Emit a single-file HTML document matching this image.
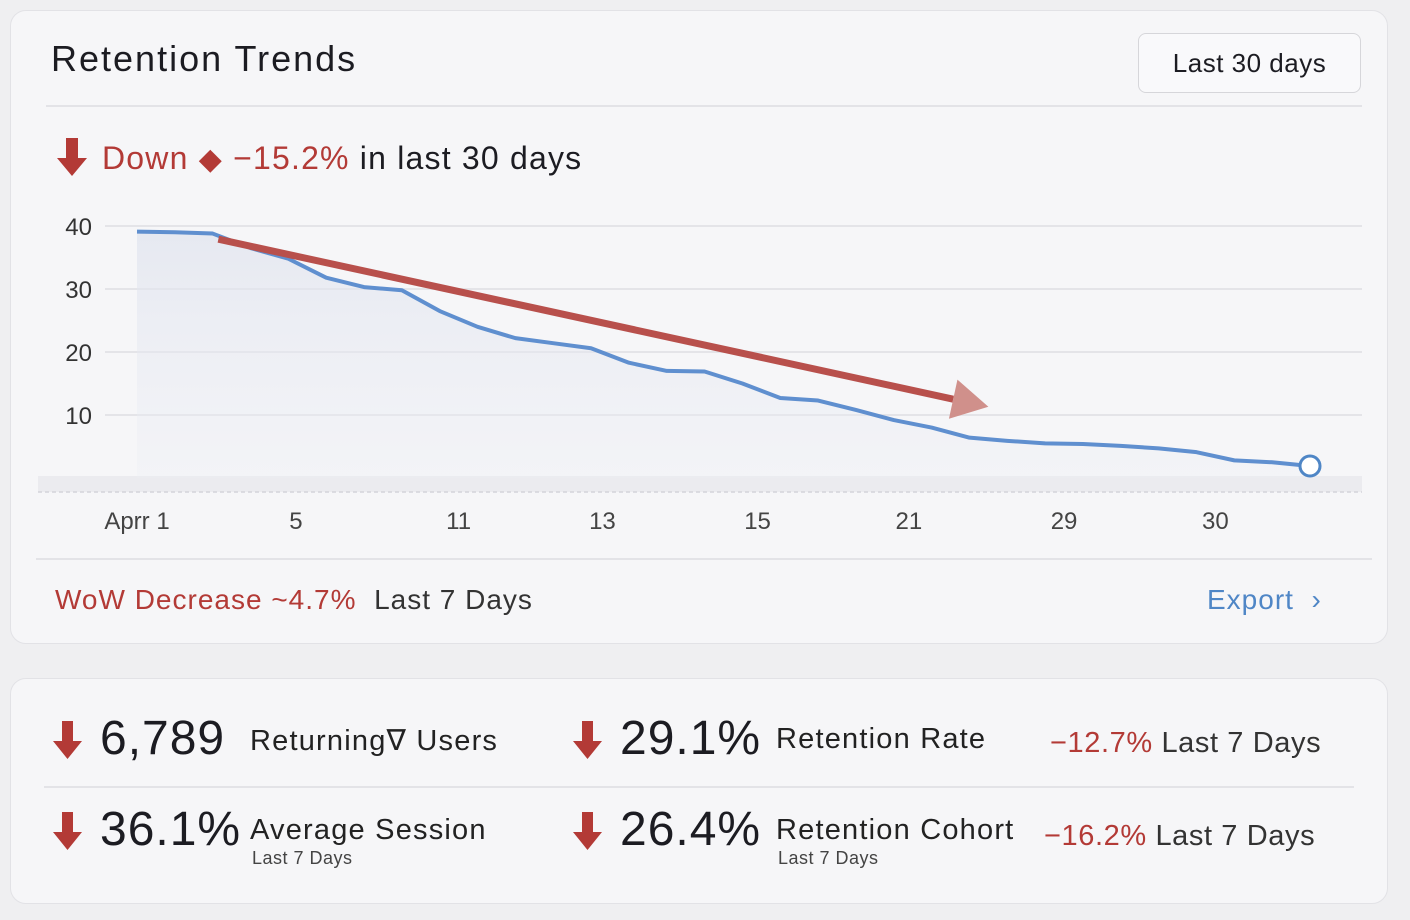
<!DOCTYPE html>
<html><head><meta charset="utf-8"><style>
*{margin:0;padding:0;box-sizing:border-box}
body{width:1410px;height:920px;background:#efeff1;font-family:"Liberation Sans",sans-serif;position:relative;overflow:hidden;color:#1c1c22}
.card{position:absolute;background:#f6f6f8;border:1.5px solid #e2e2e6;border-radius:16px}
.abs{position:absolute;white-space:nowrap}
.red{color:#b33a36}
</style></head><body>
<div class="card" style="left:10px;top:10px;width:1378px;height:634px"></div>
<div class="abs" style="left:51px;top:38px;font-size:36px;letter-spacing:2px;color:#1c1c22">Retention Trends</div>
<div class="abs" style="left:1138px;top:33px;width:223px;height:60px;border:1.5px solid #d6d6da;border-radius:8px;background:#f9f9fb;font-size:26px;letter-spacing:0.5px;line-height:58px;text-align:center">Last 30 days</div>
<div class="abs" style="left:46px;top:105px;width:1316px;height:2px;background:#e3e3e7"></div>
<svg class="abs" style="left:56px;top:138px" width="32" height="40"><path d="M10 0h12v20h9L16 38 1 20h9z" fill="#b33a36"/></svg>
<div class="abs" style="left:102px;top:140px;font-size:32px;letter-spacing:1.2px"><span class="red">Down</span> <span class="red" style="font-size:30px">◆</span> <span class="red">−15.2%</span> in last 30 days</div>
<svg class="abs" style="left:0;top:0" width="1410" height="560">
<defs><linearGradient id="g" x1="0" y1="0" x2="0" y2="1"><stop offset="0" stop-color="#dfe3ee" stop-opacity=".7"/><stop offset="1" stop-color="#eceef4" stop-opacity=".3"/></linearGradient></defs>
<g id="grid"></g><g id="area"></g><g id="lines"></g><g id="labels"></g>
</svg>
<div class="abs" style="left:36px;top:558px;width:1336px;height:2px;background:#e3e3e7"></div>
<div class="abs" style="left:55px;top:584px;font-size:28px;letter-spacing:1px"><span class="red">WoW Decrease ~4.7%</span>&nbsp;&nbsp;<span style="color:#333">Last 7 Days</span></div>
<div class="abs" style="left:1207px;top:584px;font-size:28px;letter-spacing:1px;color:#4f86c6">Export &nbsp;›</div>

<div class="card" style="left:10px;top:678px;width:1378px;height:226px"></div>
<div class="abs" style="left:44px;top:786px;width:1310px;height:2px;background:#e3e3e7"></div>
<div id="metrics"></div>
<script>
const yTicks=[10,20,30,40];
const xLabels=["Aprr 1","5","11","13","15","21","29","30"];
const xLabelIdx=[0,4.2,8.5,12.3,16.4,20.4,24.5,28.5];
const values=[39.1,39.0,38.8,36.5,34.8,31.8,30.3,29.8,26.5,24.0,22.2,21.4,20.6,18.3,17.0,16.9,15.0,12.7,12.3,10.8,9.2,8.0,6.4,5.9,5.5,5.4,5.1,4.7,4.1,2.8,2.5,1.9];
const trendStart=[2.15,37.9];
const trendEnd=[22.5,11.3];
const NS="http://www.w3.org/2000/svg";
const x0=137,x1=1310;
const xs=i=>x0+i*(x1-x0)/(values.length-1);
const ys=v=>478-v*6.3;
function el(t,a,p){const e=document.createElementNS(NS,t);for(const k in a)e.setAttribute(k,a[k]);p.appendChild(e);return e;}
const grid=document.getElementById('grid'),lab=document.getElementById('labels'),lines=document.getElementById('lines'),area=document.getElementById('area');
yTicks.forEach(t=>{
 const g=el('line',{x1:105,x2:1362,y1:ys(t),y2:ys(t),stroke:'#e4e4e8','stroke-width':2},grid);
 
 
 const tx=el('text',{x:92,y:ys(t)+9,'text-anchor':'end','font-size':24,fill:'#333','font-family':'Liberation Sans'},lab);
 tx.textContent=t;
 
 
});
const base=el('rect',{x:38,y:476,width:1324,height:16,fill:'#ebebef'},grid);


const bl=el('line',{x1:38,x2:1362,y1:492,y2:492,stroke:'#d4d4da','stroke-width':1.5,'stroke-dasharray':'4 3'},grid);


xLabels.forEach((l,i)=>{
 const tx=el('text',{x:xs(xLabelIdx[i]),y:529,'text-anchor':'middle','font-size':24,fill:'#444','font-family':'Liberation Sans'},lab);
 tx.textContent=l;
 
 
});
const pts=values.map((v,i)=>xs(i)+','+ys(v));
const ar=el('polygon',{points:x0+','+ys(0)+' '+pts.join(' ')+' '+x1+','+ys(0),fill:'url(#g)'},area);


const ln=el('polyline',{points:pts.join(' '),fill:'none',stroke:'#5f8fcf','stroke-width':4,'stroke-linejoin':'round'},lines);


const ax=xs(trendStart[0]),ay=ys(trendStart[1]),bx=xs(trendEnd[0]),by=ys(trendEnd[1]);
const ang=Math.atan2(by-ay,bx-ax),hl=36,hw=20;
const sx=bx-hl*Math.cos(ang),sy=by-hl*Math.sin(ang);
const tl=el('line',{x1:ax,y1:ay,x2:sx,y2:sy,stroke:'#b8504c','stroke-width':7},lines);


const nx=-Math.sin(ang),ny=Math.cos(ang);
const hd=el('polygon',{points:`${bx},${by} ${sx+nx*hw},${sy+ny*hw} ${sx-nx*hw},${sy-ny*hw}`,fill:'#d0908b'},lines);


const c=el('circle',{cx:xs(values.length-1),cy:ys(values[values.length-1]),r:10,fill:'#fff',stroke:'#4f86c6','stroke-width':3},lines);



const metrics=[
 {x:52,y:715,val:"6,789",lbl:"Returning∇ Users",sub:"",n:"returning-users"},
 {x:572,y:715,val:"29.1%",lbl:"Retention Rate",sub:"",n:"retention-rate"},
 {x:52,y:806,val:"36.1%",lbl:"Average Session",sub:"Last 7 Days",n:"average-session"},
 {x:572,y:806,val:"26.4%",lbl:"Retention Cohort",sub:"Last 7 Days",n:"retention-cohort"}];
const m=document.getElementById('metrics');
metrics.forEach(d=>{
 const w=document.createElement('div');
 w.className='abs';
 w.style.cssText=`left:${d.x}px;top:${d.y}px;height:60px`;
 
 
 w.innerHTML=`<svg style="position:absolute;left:0;top:6px" width="32" height="40"><path d="M10 0h11v20h9L15.5 38 1 20h9z" fill="#b33a36"/></svg><span style="position:absolute;left:48px;top:-4px;font-size:48px;letter-spacing:1px">${d.val}</span><span style="position:absolute;left:${d.x>500?204:198}px;top:8px;font-size:29px;letter-spacing:1.2px;color:#222">${d.lbl}</span>`+(d.sub?`<span style="position:absolute;left:${d.x>500?206:200}px;top:42px;font-size:18px;letter-spacing:0.5px;color:#444">${d.sub}</span>`:'');
 m.appendChild(w);
});
const ch=[{y:727,v:"−12.7%"},{y:820,v:"−16.2%"}];
ch.forEach((d,i)=>{
 const w=document.createElement('div');
 w.className='abs';
 w.style.cssText=`left:${i?1044:1050}px;top:${d.y}px;font-size:29px;letter-spacing:0.6px`;
 
 
 w.innerHTML=`<span class="red">${d.v}</span> <span style="color:#333">Last 7 Days</span>`;
 m.appendChild(w);
});
</script>
</body></html>
